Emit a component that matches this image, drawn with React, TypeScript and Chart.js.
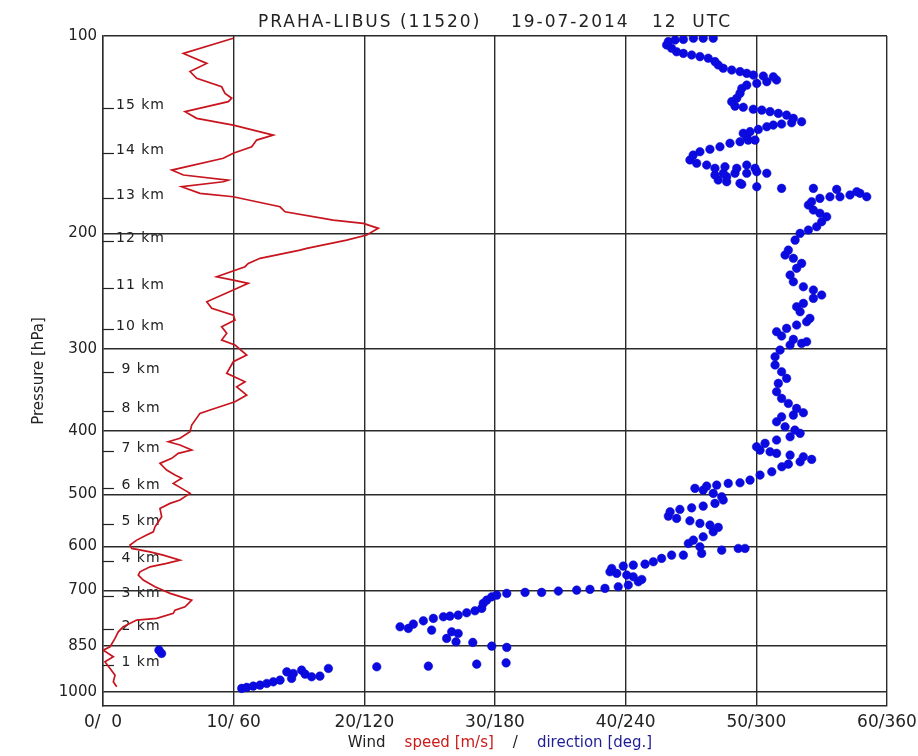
import React, { useEffect, useRef } from 'react';
import { Chart, registerables } from 'chart.js';

Chart.register(...registerables);

const FONT = '"DejaVu Sans", sans-serif';
const TITLE = 'PRAHA-LIBUS (11520)    19-07-2014   12  UTC';

// Wind speed profile (m/s) vs pressure (hPa)
const speedPressure = [
  100.8, 106.3, 110.1, 113.3, 116.0, 119.5, 122.3, 124.4, 125.9, 130.4,
  133.5, 136.7, 141.6, 144.1, 147.5, 150.9, 153.6, 160.1, 162.9, 165.8,
  166.8, 169.7, 173.7, 175.8, 178.9, 182.1, 185.3, 190.8, 193.0, 196.4,
  201.1, 204.7, 210.7, 212.0, 218.2, 222.1, 224.7, 232.8, 235.5, 238.2,
  243.9, 254.1, 260.1, 266.3, 271.0, 277.4, 283.9, 290.7, 295.8, 306.4,
  313.7, 326.7, 336.5, 342.5, 352.6, 361.0, 371.6, 376.0, 391.7, 401.0,
  410.4, 415.4, 420.2, 427.7, 432.6, 440.3, 448.1, 458.8, 466.9, 472.3,
  480.7, 489.2, 497.9, 509.7, 515.7, 524.8, 540.5, 559.8, 569.7, 576.3,
  586.6, 596.9, 603.9, 611.2, 618.3, 629.2, 636.6, 644.2, 655.6, 663.2,
  675.0, 691.0, 707.2, 724.1, 741.3, 749.9, 758.7, 772.1, 776.7, 795.2,
  809.3, 828.2, 853.0, 863.1, 883.6, 899.3, 920.3, 942.2, 964.6, 981.6,
];
const speedValues = [
  9.97, 6.15, 7.94, 6.66, 7.17, 9.08, 9.34, 9.85, 9.59, 6.28,
  7.17, 9.97, 13.03, 11.76, 11.38, 9.97, 9.21, 5.26, 6.15, 9.59,
  9.21, 6.02, 7.42, 9.97, 11.76, 13.55, 13.93, 17.62, 19.92, 21.07,
  20.18, 18.65, 15.59, 15.08, 12.02, 11.12, 10.87, 8.7, 9.97, 11.12,
  9.97, 7.94, 8.32, 9.97, 10.1, 9.08, 9.47, 9.08, 10.1, 11.0,
  9.97, 9.47, 10.87, 10.23, 11.0, 10.1, 8.19, 7.42, 6.79, 6.66,
  5.89, 5.0, 5.89, 6.79, 5.76, 5.26, 4.36, 4.87, 5.51, 6.02,
  5.38, 6.02, 6.66, 5.89, 5.13, 4.36, 4.49, 3.98, 3.85, 3.34,
  2.58, 2.07, 2.2, 3.6, 4.61, 5.89, 4.87, 3.6, 2.83, 2.7,
  3.08, 3.98, 5.13, 6.79, 6.28, 5.51, 5.38, 4.11, 2.58, 1.55,
  1.17, 0.92, 0.54, 0.02, 0.79, 0.15, 0.54, 0.92, 0.79, 1.05,
];

// Wind direction (deg) vs pressure (hPa)
const dirPressure = [
  873.2, 863.1, 987.1, 983.7, 979.2, 975.8, 970.1, 964.6, 958.9, 931.4,
  953.2, 936.6, 925.8, 938.9, 947.8, 945.5, 920.3, 915.1, 912.9, 906.5,
  902.4, 854.8, 851.0, 840.0, 838.2, 828.2, 809.3, 814.0, 804.5, 795.2,
  799.7, 787.7, 778.7, 772.1, 767.8, 765.9, 763.2, 757.1, 751.8, 745.5,
  732.5, 724.1, 715.8, 711.5, 707.2, 704.8, 704.8, 701.5, 699.1, 697.3,
  694.9, 691.0, 686.9, 679.0, 673.4, 667.2, 663.2, 659.3, 655.6, 647.9,
  642.6, 640.4, 638.2, 633.0, 625.5, 618.3, 618.3, 614.6, 607.6, 604.0,
  604.0, 600.6, 593.5, 586.6, 579.8, 569.7, 561.0, 556.5, 553.2, 548.2,
  543.6, 539.2, 531.1, 526.7, 523.8, 520.6, 515.7, 509.7, 503.8, 497.9,
  492.2, 489.2, 485.3, 483.6, 480.7, 479.7, 475.2, 466.9, 461.5, 453.5,
  449.3, 445.6, 441.9, 437.9, 435.3, 432.6, 430.2, 427.7, 422.7, 417.7,
  412.9, 408.2, 403.3, 398.7, 394.1, 387.3, 380.6, 378.3, 375.2, 369.5,
  363.1, 356.7, 348.5, 338.4, 332.5, 324.9, 317.3, 308.2, 301.1, 295.8,
  294.1, 292.4, 290.0, 286.6, 282.3, 279.0, 275.8, 272.6, 269.4, 263.2,
  258.6, 255.6, 251.1, 248.2, 243.9, 241.1, 236.9, 231.4, 226.0, 222.1,
  218.2, 215.7, 212.0, 204.7, 199.9, 197.6, 195.3, 191.9, 188.6, 186.3,
  184.2, 181.0, 178.9, 176.8, 175.8, 175.8, 174.7, 173.7, 175.8, 172.7,
  171.3, 170.7, 170.7, 169.7, 168.3, 166.8, 165.8, 167.7, 163.9, 162.9,
  161.9, 161.9, 161.9, 161.0, 161.9, 159.1, 158.2, 159.1, 157.3, 159.1,
  157.3, 156.3, 154.5, 151.9, 150.1, 148.8, 147.5, 145.7, 144.9, 144.1,
  144.1, 142.4, 140.7, 139.9, 138.8, 137.5, 136.7, 136.2, 135.6, 135.1,
  133.5, 132.0, 131.2, 130.4, 129.7, 129.3, 128.4, 127.9, 125.9, 124.4,
  122.3, 120.2, 118.8, 118.1, 117.4, 116.7, 115.4, 115.1, 114.7, 114.0,
  113.3, 112.7, 112.0, 110.7, 109.4, 108.1, 107.5, 106.9, 106.3, 105.7,
  104.4, 103.2, 102.0, 101.4, 101.2, 100.8, 100.8, 100.8,
];
const dirValues = [
  26.9, 25.7, 63.7, 66.0, 69.0, 72.1, 75.2, 78.2, 81.3, 84.4,
  86.6, 87.4, 91.2, 92.8, 95.8, 99.6, 103.5, 125.7, 149.4, 171.6,
  185.1, 185.4, 178.5, 169.8, 162.1, 157.8, 160.1, 163.1, 150.9, 136.4,
  140.2, 142.5, 147.1, 151.7, 156.3, 159.3, 163.1, 167.0, 170.8, 173.9,
  174.6, 176.2, 178.5, 180.8, 185.4, 193.8, 201.4, 209.1, 217.5, 223.6,
  230.5, 236.6, 241.2, 245.8, 247.4, 243.5, 240.5, 235.9, 232.8, 233.6,
  238.9, 243.5, 248.9, 252.7, 256.5, 261.1, 266.5, 274.9, 284.1, 291.7,
  294.8, 274.1, 268.8, 271.1, 275.6, 280.2, 282.5, 278.7, 274.1, 269.5,
  263.4, 259.6, 260.4, 264.9, 270.3, 275.6, 281.0, 284.8, 284.1, 280.2,
  275.6, 271.8, 277.2, 281.8, 287.1, 292.5, 297.1, 301.7, 307.1, 311.7,
  314.7, 320.1, 325.4, 321.6, 315.5, 309.3, 306.3, 301.7, 300.1, 304.0,
  309.3, 315.5, 320.1, 317.7, 313.2, 309.3, 311.6, 317.0, 321.6, 318.5,
  314.7, 311.6, 309.3, 310.1, 313.9, 311.6, 308.6, 308.6, 310.9, 315.5,
  320.8, 323.1, 317.0, 311.6, 309.3, 313.9, 318.5, 323.1, 324.6, 320.1,
  318.5, 321.6, 326.2, 330.0, 326.2, 321.6, 317.0, 315.5, 318.5, 320.8,
  317.0, 313.2, 314.7, 317.8, 320.1, 323.9, 327.7, 330.0, 332.3, 329.2,
  326.2, 323.9, 325.4, 329.2, 333.8, 338.4, 343.0, 347.6, 350.7, 346.1,
  336.9, 326.2, 311.6, 300.2, 293.3, 286.4, 282.5, 292.5, 286.4, 281.0,
  284.8, 290.2, 295.6, 300.2, 304.8, 281.0, 285.6, 291.0, 295.6, 299.4,
  277.2, 272.6, 269.5, 271.0, 274.1, 278.7, 283.3, 287.9, 292.5, 296.3,
  299.4, 295.6, 294.0, 297.1, 300.9, 304.8, 307.8, 311.6, 316.2, 320.8,
  317.0, 313.9, 310.1, 306.3, 302.5, 298.6, 294.0, 290.2, 288.7, 291.0,
  292.5, 293.3, 295.6, 300.2, 304.8, 309.3, 307.8, 303.2, 298.6, 295.6,
  292.5, 288.7, 284.8, 282.5, 281.0, 277.9, 274.1, 270.3, 266.5, 263.4,
  261.1, 258.8, 259.6, 262.7, 266.5, 271.1, 275.6, 280.2,
];

const pressureTicks = [100, 200, 300, 400, 500, 600, 700, 850, 1000];
const speedTicks = [0, 10, 20, 30, 40, 50, 60];
const dirTicks = [0, 60, 120, 180, 240, 300, 360];

const kmLevels = [1, 2, 3, 4, 5, 6, 7, 8, 9, 10, 11, 12, 13, 14, 15];
const kmPressures = [909.6, 801.6, 714.1, 631.5, 554.5, 488.7, 429.2, 372.9, 325.2, 279.7, 242.2, 205.4, 176.6, 150.8, 128.8];

const xTitleParts = [
  { text: 'Wind', color: '#222222' },
  { text: 'speed [m/s]', color: 'rgb(205,25,25)' },
  { text: '/', color: '#222222' },
  { text: 'direction [deg.]', color: 'rgb(30,30,150)' },
];

const GRID = '#2a2a2a';

const overlayPlugin = {
  id: 'overlay',
  beforeDraw(chart: any) {
    const { ctx, chartArea, scales } = chart;
    const y = scales.y;
    ctx.save();
    ctx.font = `14px ${FONT}`;
    ctx.fillStyle = '#222';
    ctx.strokeStyle = '#222';
    ctx.lineWidth = 1.2;
    ctx.letterSpacing = '1px';
    ctx.textAlign = 'left';
    ctx.textBaseline = 'alphabetic';
    kmLevels.forEach((km, i) => {
      const py = Math.round(y.getPixelForValue(kmPressures[i])) + 0.5;
      ctx.beginPath();
      ctx.moveTo(chartArea.left, py);
      ctx.lineTo(chartArea.left + 11, py);
      ctx.stroke();
      ctx.fillText(`${String(km).padStart(2, ' ')} km`, chartArea.left + 13, py + 0.5);
    });
    ctx.restore();
  },
  afterDraw(chart: any) {
    const { ctx, chartArea } = chart;
    const cx = (chartArea.left + chartArea.right) / 2;
    ctx.save();
    // title
    ctx.font = `17px ${FONT}`;
    ctx.letterSpacing = '2px';
    ctx.fillStyle = '#222';
    ctx.textAlign = 'center';
    ctx.textBaseline = 'alphabetic';
    ctx.fillText(TITLE, cx, 27);
    // x-axis title in colored parts
    ctx.font = `15px ${FONT}`;
    ctx.letterSpacing = '0px';
    ctx.textAlign = 'left';
    const gap = 19;
    const widths = xTitleParts.map((p) => ctx.measureText(p.text).width);
    const total = widths.reduce((a, b) => a + b, 0) + gap * (xTitleParts.length - 1);
    let x = cx + 5 - total / 2;
    xTitleParts.forEach((p, i) => {
      ctx.fillStyle = p.color;
      ctx.fillText(p.text, x, 747);
      x += widths[i] + gap;
    });
    ctx.restore();
  },
};

export default function App() {
  const ref = useRef<HTMLCanvasElement | null>(null);

  useEffect(() => {
    if (!ref.current) return;
    const chart = new Chart(ref.current, {
      type: 'scatter',
      data: {
        datasets: [
          {
            type: 'line',
            label: 'speed',
            data: speedValues.map((s, i) => ({ x: s, y: speedPressure[i] })),
            xAxisID: 'x',
            yAxisID: 'y',
            borderColor: 'rgb(200,20,30)',
            borderWidth: 1.7,
            pointRadius: 0,
            tension: 0,
            fill: false,
          },
          {
            type: 'scatter',
            label: 'direction',
            data: dirValues.map((d, i) => ({ x: d, y: dirPressure[i] })),
            xAxisID: 'x2',
            yAxisID: 'y',
            backgroundColor: 'rgb(10,10,225)',
            borderColor: 'rgb(10,10,200)',
            borderWidth: 0.5,
            pointRadius: 4.3,
            pointStyle: 'circle',
          },
        ],
      } as any,
      options: {
        animation: false,
        responsive: false,
        events: [],
        layout: { padding: { top: 36, right: 31, left: 0, bottom: 0 } },
        plugins: {
          legend: { display: false },
          tooltip: { enabled: false },
          title: { display: false },
        },
        scales: {
          x: {
            type: 'linear',
            position: 'bottom',
            min: 0,
            max: 60,
            afterBuildTicks: (s: any) => {
              s.ticks = speedTicks.map((v) => ({ value: v }));
            },
            afterFit: (s: any) => {
              s.height = 50;
              s.paddingLeft = 0;
              s.paddingRight = 0;
            },
            grid: { color: GRID, lineWidth: 1.4, drawTicks: false },
            border: { display: true, color: GRID, width: 1.4 },
            ticks: {
              autoSkip: false,
              maxRotation: 0,
              padding: 6,
              color: '#222',
              font: { family: FONT, size: 17 },
              callback: (_v: any, i: number) => `${speedTicks[i]}/${String(dirTicks[i]).padStart(3, ' ')}`,
            },
          },
          x2: {
            type: 'linear',
            min: 0,
            max: 360,
            display: false,
          },
          y: {
            type: 'logarithmic',
            reverse: true,
            min: 100,
            max: 1050,
            afterBuildTicks: (s: any) => {
              s.ticks = pressureTicks.map((v) => ({ value: v }));
            },
            afterFit: (s: any) => {
              s.width = 103;
              s.paddingTop = 0;
              s.paddingBottom = 0;
            },
            grid: { color: GRID, lineWidth: 1.4, drawTicks: false },
            border: { display: true, color: GRID, width: 1.4 },
            ticks: {
              autoSkip: false,
              padding: 6,
              color: '#222',
              font: { family: FONT, size: 15 },
              callback: (v: any) => String(v),
            },
            title: {
              display: true,
              text: 'Pressure [hPa]',
              color: '#222',
              font: { family: FONT, size: 15 },
              padding: { top: 30, bottom: 0 },
            },
          },
        },
      } as any,
      plugins: [overlayPlugin],
    });
    return () => chart.destroy();
  }, []);

  return (
    <div style={{ position: 'fixed', left: 0, top: 0, width: 918, height: 756, background: '#ffffff' }}>
      <canvas ref={ref} width={918} height={756} style={{ display: 'block' }} />
    </div>
  );
}
